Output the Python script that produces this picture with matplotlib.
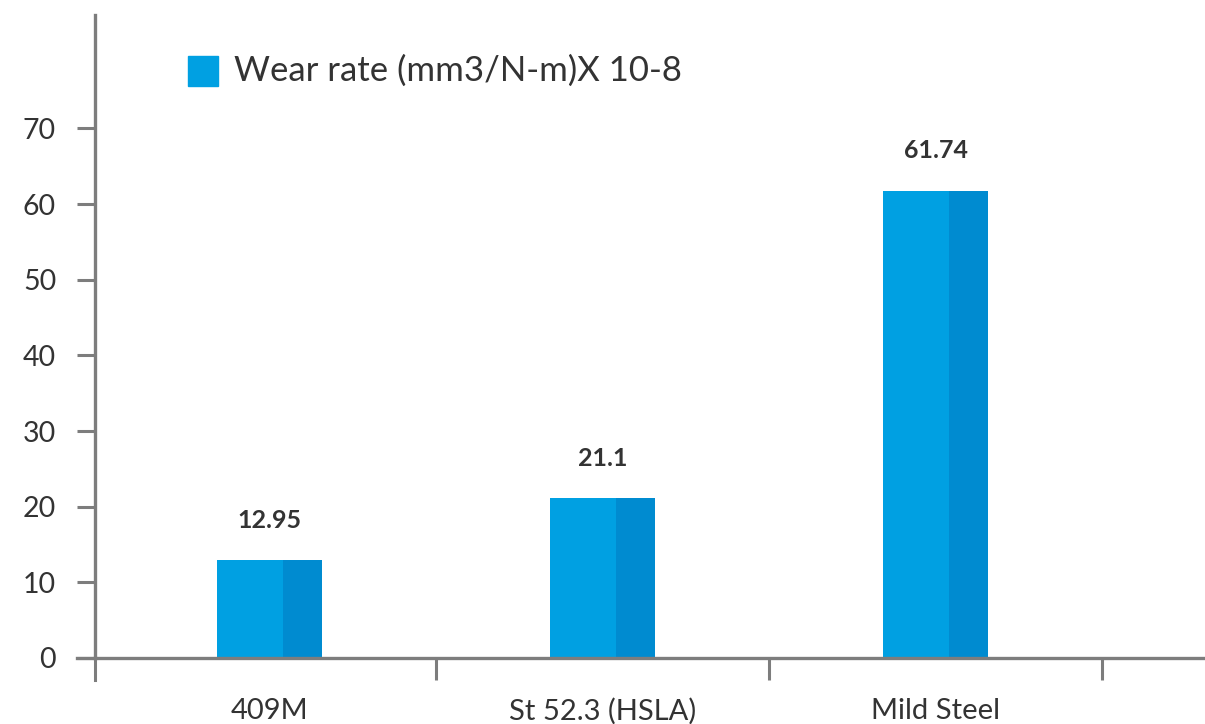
import matplotlib
matplotlib.use("Agg")
import matplotlib.pyplot as plt
from matplotlib.patches import Rectangle
from matplotlib.lines import Line2D

categories = ["409M", "St 52.3 (HSLA)", "Mild Steel"]
values = [12.95, 21.1, 61.74]
value_labels = ["12.95", "21.1", "61.74"]
yticks = [0, 10, 20, 30, 40, 50, 60, 70]
legend_label = "Wear rate (mm3/N-m)X 10-8"

LIGHT = "#00A0E2"
DARK = "#008BD0"
GRAY = "#7d7d7d"
TXT = "#333333"
plt.rcParams['font.family'] = ['Lato', 'DejaVu Sans']

W, H = 1205, 724
fig = plt.figure(figsize=(W / 100, H / 100), dpi=100)
ax = fig.add_axes([95 / W, (H - 658) / H, (W - 95) / W, (658 - 15) / H])

x = list(range(len(categories)))
bw_total = 0.315
bw_light = 0.198
bw_dark = bw_total - bw_light
left = [i - bw_total / 2 for i in x]
ax.bar(left, values, width=bw_light, align='edge', color=LIGHT, zorder=2)
ax.bar([l + bw_light for l in left], values, width=bw_dark, align='edge', color=DARK, zorder=2)

for xi, v, lab in zip(x, values, value_labels):
    ax.annotate(lab, (xi, v), xytext=(0, 20.5), textcoords='offset points',
                ha='center', va='bottom', fontsize=18, fontweight='bold', color=TXT)

ax.set_xlim(-0.524, 2.809)
ax.set_ylim(0, 85)

for s in ['top', 'right']:
    ax.spines[s].set_visible(False)
for s in ['left', 'bottom']:
    ax.spines[s].set_color(GRAY)
    ax.spines[s].set_linewidth(2.4)
ax.spines['left'].set_zorder(3)
ax.spines['bottom'].set_zorder(3)

ax.set_yticks(yticks)
ax.set_yticklabels([str(t) for t in yticks])
ax.tick_params(axis='y', length=13, width=2.2, color=GRAY, pad=15, labelsize=20.5, labelcolor=TXT)

ax.set_xticks([0.5, 1.5, 2.5])
ax.set_xticklabels([])
ax.set_xticks(x, minor=True)
ax.set_xticklabels(categories, minor=True)
ax.tick_params(axis='x', which='major', length=16, width=2.2, color=GRAY)
ax.tick_params(axis='x', which='minor', length=0, pad=29, labelsize=21, labelcolor=TXT)

# extend left spine downward like the category tick, and x axis leftward
ax.add_line(Line2D([-0.524, -0.524], [0, -2.9], color=GRAY, lw=2.2, clip_on=False, zorder=3))
ax.add_line(Line2D([-0.578, -0.524], [0, 0], color=GRAY, lw=2.4, clip_on=False, zorder=3))

# legend
fig.patches.append(Rectangle((188 / W, (H - 86) / H), 30 / W, 30 / H,
                             transform=fig.transFigure, color=LIGHT))
fig.text(234 / W, (H - 71) / H, legend_label, ha='left', va='center',
         fontsize=25, color=TXT)

fig.savefig("out.png", dpi=100)
